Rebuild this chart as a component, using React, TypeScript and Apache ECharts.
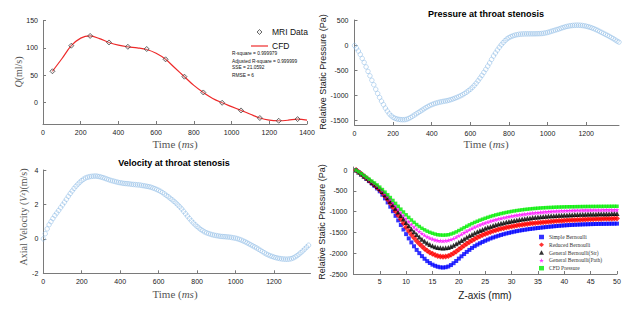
import React, { useEffect, useRef } from "react";
import * as echarts from "echarts";

// ---------- Panel 1: flow rate ----------
const mriTime = [50, 150, 250, 350, 450, 550, 650, 750, 850, 950, 1050, 1150, 1250, 1350];
const mriFlow = [57, 104, 122, 110, 102, 98, 79, 47, 18, -1, -15, -29, -34, -31];
const cfdTime = [50, 100, 150, 200, 250, 300, 350, 400, 450, 500, 550, 600, 650, 700, 750, 800, 850, 900, 950, 1000, 1050, 1100, 1150, 1200, 1250, 1300, 1350, 1400];
const cfdFlow = [57, 80, 104, 118, 122, 117, 110, 105, 102, 100, 97, 90, 79, 63, 47, 31, 18, 7, -1, -8, -15, -22, -29, -33, -34, -33, -31, -33];
const fitStats = ["R-square = 0.999979", "Adjusted R-square = 0.999999", "SSE = 21.0592", "RMSE = 6"];
const flowTicksY = [0, 50, 100, 150];
const timeTicks14 = [0, 200, 400, 600, 800, 1000, 1200, 1400];

// ---------- Panel 2: pressure at throat (sampled every 10 ms from 0) ----------
const pressureStartMs = 0;
const pressureStepMs = 10;
const throatPressure = [
  0, -50, -110, -180, -260, -340, -430, -520, -610, -700,
  -790, -880, -965, -1045, -1120, -1190, -1260, -1320, -1375, -1415,
  -1445, -1465, -1478, -1487, -1492, -1494, -1492, -1485, -1470, -1450,
  -1425, -1400, -1375, -1350, -1325, -1300, -1275, -1250, -1228, -1208,
  -1190, -1175, -1162, -1150, -1140, -1132, -1124, -1117, -1110, -1100,
  -1088, -1075, -1060, -1045, -1028, -1010, -990, -965, -940, -910,
  -880, -845, -805, -760, -710, -655, -600, -540, -480, -415,
  -350, -280, -210, -150, -90, -35, 15, 60, 100, 135,
  160, 180, 195, 208, 218, 225, 230, 233, 235, 236,
  236, 236, 236, 236, 237, 238, 240, 243, 248, 255,
  264, 275, 288, 300, 312, 324, 336, 350, 363, 375,
  385, 393, 400, 405, 408, 410, 410, 408, 404, 398,
  390, 380, 368, 355, 340, 323, 305, 285, 265, 245,
  225, 205, 185, 162, 140, 115, 90, 70,
];
const pressureTicksY = [-1500, -1000, -500, 0, 500];
const timeTicks12 = [0, 200, 400, 600, 800, 1000, 1200];

// ---------- Panel 3: velocity at throat (sampled every 10 ms from 0) ----------
const velocityStartMs = 0;
const velocityStepMs = 10;
const throatVelocity = [
  0.0, 0.3, 0.58, 0.82, 1.0, 1.18, 1.35, 1.5, 1.65, 1.81,
  1.97, 2.13, 2.3, 2.47, 2.63, 2.78, 2.93, 3.06, 3.18, 3.29,
  3.39, 3.47, 3.54, 3.58, 3.61, 3.63, 3.64, 3.65, 3.64, 3.62,
  3.59, 3.56, 3.52, 3.48, 3.44, 3.4, 3.37, 3.34, 3.31, 3.28,
  3.26, 3.24, 3.22, 3.21, 3.2, 3.19, 3.17, 3.16, 3.15, 3.14,
  3.13, 3.11, 3.09, 3.07, 3.05, 3.03, 3.0, 2.96, 2.92, 2.87,
  2.82, 2.76, 2.69, 2.61, 2.53, 2.45, 2.36, 2.27, 2.18, 2.08,
  1.97, 1.86, 1.74, 1.6, 1.46, 1.32, 1.18, 1.05, 0.93, 0.82,
  0.72, 0.63, 0.54, 0.47, 0.4, 0.35, 0.31, 0.27, 0.24, 0.21,
  0.19, 0.17, 0.15, 0.14, 0.13, 0.12, 0.11, 0.1, 0.08, 0.06,
  0.04, 0.01, -0.03, -0.07, -0.12, -0.17, -0.23, -0.29, -0.35, -0.41,
  -0.47, -0.53, -0.6, -0.67, -0.74, -0.81, -0.88, -0.93, -0.98, -1.02,
  -1.06, -1.09, -1.12, -1.14, -1.16, -1.17, -1.18, -1.18, -1.17, -1.15,
  -1.11, -1.05, -0.98, -0.89, -0.8, -0.7, -0.59, -0.48, -0.37,
];
const velocityTicksY = [-2, 0, 2, 4];

// ---------- Panel 4: pressure along z-axis (sampled every 0.5 mm from 0.5) ----------
const zStartMm = 0.5;
const zStepMm = 0.5;
const simpleBernoulli = [
  0, -50, -102, -155, -210, -265, -322, -380, -442, -510,
  -592, -680, -778, -880, -990, -1100, -1210, -1320, -1430, -1540,
  -1643, -1740, -1833, -1920, -1998, -2070, -2133, -2190, -2236, -2275,
  -2303, -2325, -2339, -2345, -2337, -2320, -2285, -2240, -2187, -2130,
  -2074, -2020, -1968, -1920, -1873, -1830, -1793, -1760, -1729, -1700,
  -1672, -1645, -1622, -1600, -1580, -1560, -1542, -1525, -1510, -1495,
  -1481, -1468, -1456, -1445, -1435, -1425, -1416, -1408, -1400, -1393,
  -1385, -1378, -1371, -1364, -1358, -1352, -1346, -1340, -1335, -1330,
  -1326, -1322, -1318, -1315, -1312, -1309, -1306, -1304, -1302, -1300,
  -1298, -1297, -1295, -1294, -1293, -1292, -1291, -1290, -1289, -1288,
];
const reducedBernoulli = [
  0, -45, -95, -145, -197, -250, -302, -355, -413, -475,
  -547, -625, -710, -800, -894, -990, -1088, -1185, -1281, -1375,
  -1465, -1550, -1630, -1705, -1772, -1835, -1890, -1940, -1980, -2015,
  -2042, -2065, -2078, -2085, -2079, -2065, -2036, -2000, -1956, -1910,
  -1862, -1815, -1771, -1730, -1691, -1655, -1621, -1590, -1561, -1535,
  -1511, -1488, -1467, -1448, -1430, -1413, -1397, -1383, -1370, -1357,
  -1345, -1334, -1323, -1313, -1304, -1295, -1287, -1279, -1272, -1265,
  -1258, -1252, -1246, -1240, -1234, -1229, -1224, -1220, -1216, -1212,
  -1208, -1205, -1202, -1199, -1196, -1193, -1190, -1188, -1185, -1183,
  -1181, -1179, -1177, -1175, -1173, -1171, -1169, -1168, -1166, -1165,
];
const generalBernoulliStr = [
  0, -45, -92, -140, -190, -240, -290, -340, -393, -450,
  -517, -590, -668, -750, -834, -920, -1008, -1095, -1179, -1260,
  -1339, -1415, -1485, -1550, -1610, -1665, -1712, -1755, -1790, -1820,
  -1843, -1860, -1870, -1875, -1870, -1860, -1838, -1810, -1774, -1735,
  -1695, -1655, -1617, -1580, -1547, -1515, -1485, -1455, -1427, -1400,
  -1377, -1355, -1334, -1315, -1297, -1280, -1265, -1250, -1236, -1222,
  -1210, -1198, -1187, -1177, -1168, -1159, -1151, -1143, -1136, -1129,
  -1123, -1117, -1111, -1106, -1101, -1097, -1093, -1089, -1085, -1082,
  -1079, -1076, -1073, -1070, -1067, -1065, -1063, -1061, -1059, -1057,
  -1055, -1054, -1052, -1051, -1050, -1049, -1048, -1047, -1046, -1045,
];
const generalBernoulliPath = [
  0, -40, -88, -135, -182, -230, -277, -325, -375, -430,
  -493, -560, -631, -705, -782, -860, -938, -1015, -1091, -1165,
  -1236, -1305, -1367, -1425, -1477, -1525, -1567, -1605, -1635, -1660,
  -1680, -1695, -1702, -1705, -1700, -1690, -1670, -1645, -1614, -1580,
  -1543, -1505, -1469, -1435, -1403, -1372, -1344, -1318, -1293, -1270,
  -1248, -1228, -1209, -1192, -1175, -1160, -1146, -1132, -1119, -1107,
  -1096, -1085, -1075, -1066, -1057, -1049, -1041, -1034, -1027, -1021,
  -1015, -1009, -1004, -999, -994, -990, -986, -983, -980, -977,
  -974, -972, -970, -968, -966, -965, -964, -963, -962, -961,
  -960, -960, -959, -959, -958, -958, -957, -957, -957, -957,
];
const cfdPressure = [
  0, -40, -85, -130, -175, -220, -265, -310, -358, -410,
  -468, -530, -594, -660, -730, -800, -870, -940, -1008, -1075,
  -1138, -1200, -1257, -1310, -1357, -1400, -1437, -1470, -1497, -1520,
  -1540, -1555, -1562, -1565, -1562, -1555, -1538, -1515, -1487, -1455,
  -1420, -1385, -1351, -1318, -1287, -1258, -1231, -1205, -1181, -1158,
  -1136, -1115, -1096, -1078, -1062, -1046, -1032, -1018, -1006, -994,
  -983, -973, -964, -955, -947, -940, -933, -927, -921, -916,
  -911, -907, -903, -900, -897, -894, -891, -889, -887, -885,
  -883, -882, -881, -880, -879, -878, -877, -876, -875, -875,
  -874, -874, -873, -873, -872, -872, -871, -871, -870, -870,
];
const zTicksX = [5, 10, 15, 20, 25, 30, 35, 40, 45, 50];
const zTicksY = [-2500, -2000, -1500, -1000, -500, 0];
const zSeriesNames = ["Simple Bernoulli", "Reduced Bernoulli", "General Bernoulli(Str)", "General Bernoulli(Path)", "CFD Pressure"];

const SANS = "Liberation Sans";
const SERIF = "Liberation Serif";
const AXIS_COLOR = "#7a7a7a";
const STAR = "path://M50,0 L61,35 L98,35 L68,57 L79,91 L50,70 L21,91 L32,57 L2,35 L39,35 Z";

function sampled(start: number, step: number, values: number[]) {
  return values.map((v, i) => [start + i * step, v]);
}
function pairs(xs: number[], ys: number[]) {
  return xs.map((x, i) => [x, ys[i]]);
}

function axis(gridIndex: number, min: number, max: number, ticks: number[], margin: number) {
  return {
    type: "value",
    gridIndex,
    min,
    max,
    axisLine: { show: true, onZero: false, lineStyle: { color: AXIS_COLOR, width: 1 } },
    axisTick: { show: true, inside: true, length: 3, customValues: ticks, lineStyle: { color: AXIS_COLOR, width: 1 } },
    axisLabel: {
      customValues: ticks,
      fontSize: 7,
      color: "#1a1a1a",
      fontFamily: SANS,
      margin,
      formatter: (v: number) => String(v),
    },
    splitLine: { show: false },
  };
}

function txt(x: number, y: number, text: string, extra: any = {}, rotation = 0, rich?: any) {
  return {
    type: "text",
    x,
    y,
    rotation,
    style: {
      text,
      fontSize: 9,
      fontFamily: SANS,
      fill: "#111",
      align: "center",
      verticalAlign: "middle",
      ...extra,
      ...(rich ? { rich } : {}),
    },
  };
}

export default function App() {
  const ref = useRef<HTMLDivElement>(null);
  useEffect(() => {
    if (!ref.current) return;
    const chart = echarts.init(ref.current, undefined, { renderer: "svg" });
    const serifGray = { fontFamily: SERIF, fontSize: 11, fill: "#555" };
    const italic = { fontStyle: "italic", fontFamily: SERIF, fontSize: 11, fill: "#555" };
    const zSymbols = [
      { symbol: "rect", size: 4, color: "#0000ff" },
      { symbol: "diamond", size: 6, color: "#ff0000" },
      { symbol: "triangle", size: 5, color: "#000000" },
      { symbol: STAR, size: 5, color: "#ff00ff" },
      { symbol: "rect", size: 3.5, color: "#00ee00" },
    ];
    const zData = [simpleBernoulli, reducedBernoulli, generalBernoulliStr, generalBernoulliPath, cfdPressure];

    const option: any = {
      animation: false,
      backgroundColor: "#ffffff",
      grid: [
        { left: 43, top: 20.7, width: 264, height: 103.3 },
        { left: 354.5, top: 20, width: 264.5, height: 105 },
        { left: 43.3, top: 170, width: 267.2, height: 103.3 },
        { left: 353.4, top: 167, width: 263.6, height: 107 },
      ],
      xAxis: [
        axis(0, 0, 1400, timeTicks14, 5),
        axis(1, 0, 1370, timeTicks12, 5),
        axis(2, 0, 1390, timeTicks12, 5),
        axis(3, 0, 50, zTicksX, 4),
      ],
      yAxis: [
        axis(0, -40, 150, flowTicksY, 5),
        axis(1, -1600, 515, pressureTicksY, 6),
        axis(2, -2, 4, velocityTicksY, 5),
        axis(3, -2500, 75, zTicksY, 6),
      ],
      legend: [
        {
          data: [
            {
              name: "MRI Data",
              icon: "path://M5,0 L10,5 L5,10 L0,5 Z",
              itemStyle: { color: "rgba(210,210,210,0.4)", borderColor: "#333", borderWidth: 0.9 },
            },
            {
              name: "CFD",
              icon: "path://M0,0 L100,0 L100,7 L0,7 Z",
              itemStyle: { color: "#ee2a2a", borderWidth: 0 },
            },
          ],
          symbolKeepAspect: true,
          orient: "vertical",
          left: 251,
          top: 27.5,
          padding: 0,
          itemWidth: 17,
          itemHeight: 5,
          itemGap: 5,
          textStyle: { fontSize: 8.5, fontFamily: SANS, color: "#111", padding: [0, 0, 0, -1] },
        },
        {
          data: zSeriesNames,
          orient: "vertical",
          left: 539,
          top: 234,
          padding: 0,
          itemWidth: 5,
          itemHeight: 4.5,
          itemGap: 1.8,
          textStyle: { fontSize: 5.5, fontFamily: SERIF, color: "#333" },
        },
      ],
      series: [
        {
          name: "CFD",
          type: "line",
          xAxisIndex: 0,
          yAxisIndex: 0,
          data: pairs(cfdTime, cfdFlow),
          smooth: 0.35,
          symbol: "none",
          lineStyle: { color: "#ee2a2a", width: 1.2 },
          itemStyle: { color: "#ee2a2a" },
          z: 2,
        },
        {
          name: "MRI Data",
          type: "scatter",
          xAxisIndex: 0,
          yAxisIndex: 0,
          data: pairs(mriTime, mriFlow),
          symbol: "diamond",
          symbolSize: 5,
          itemStyle: { color: "rgba(210,210,210,0.4)", borderColor: "#333", borderWidth: 0.9 },
          z: 3,
        },
        {
          name: "Throat pressure",
          type: "scatter",
          xAxisIndex: 1,
          yAxisIndex: 1,
          data: sampled(pressureStartMs, pressureStepMs, throatPressure),
          symbol: "circle",
          symbolSize: 4.5,
          itemStyle: { color: "rgba(0,0,0,0)", borderColor: "#8fbde6", borderWidth: 0.7 },
        },
        {
          name: "Throat velocity",
          type: "scatter",
          xAxisIndex: 2,
          yAxisIndex: 2,
          data: sampled(velocityStartMs, velocityStepMs, throatVelocity),
          symbol: "circle",
          symbolSize: 4.5,
          itemStyle: { color: "rgba(0,0,0,0)", borderColor: "#8fbde6", borderWidth: 0.7 },
        },
        ...zData.map((vals, i) => ({
          name: zSeriesNames[i],
          type: "scatter",
          xAxisIndex: 3,
          yAxisIndex: 3,
          data: sampled(zStartMm, zStepMm, vals),
          symbol: zSymbols[i].symbol,
          symbolSize: zSymbols[i].size,
          itemStyle: { color: zSymbols[i].color },
        })),
      ],
      graphic: [
        ...fitStats.map((s, i) => txt(232, [53.3, 61, 67.7, 75][i], s, { fontSize: 4.8, align: "left", fill: "#111" })),
        txt(18, 72, "{i|Q}(ml/s)", { ...serifGray, fontSize: 10 }, Math.PI / 2, { i: { ...italic, fontSize: 10 } }),
        txt(175, 144, "Time ({i|ms})", serifGray, 0, { i: italic }),
        txt(486, 144, "Time ({i|ms})", serifGray, 0, { i: italic }),
        txt(175, 294, "Time ({i|ms})", serifGray, 0, { i: italic }),
        txt(486, 14, "Pressure at throat stenosis", { fontSize: 9, fontWeight: "bold", fill: "#000" }),
        txt(174, 163, "Velocity at throat stenosis", { fontSize: 9, fontWeight: "bold", fill: "#000" }),
        txt(323, 72, "Relative Static Pressure (Pa)", { fontSize: 9, fill: "#222" }, Math.PI / 2),
        txt(322, 222, "Relative Static Pressure (Pa)", { fontSize: 9, fill: "#222" }, Math.PI / 2),
        txt(23, 217, "Axial Velocity ({i|V}{s|z})(m/s)", { ...serifGray, fontSize: 10 }, Math.PI / 2, {
          i: { ...italic, fontSize: 10 },
          s: { ...italic, fontSize: 7 },
        }),
        txt(485, 295, "Z-axis (mm)", { fontSize: 10, fill: "#222" }),
      ],
    };
    chart.setOption(option);
    return () => chart.dispose();
  }, []);
  return (
    <div
      ref={ref}
      style={{ position: "fixed", left: 0, top: 0, width: 624, height: 312, background: "#fff" }}
    />
  );
}
